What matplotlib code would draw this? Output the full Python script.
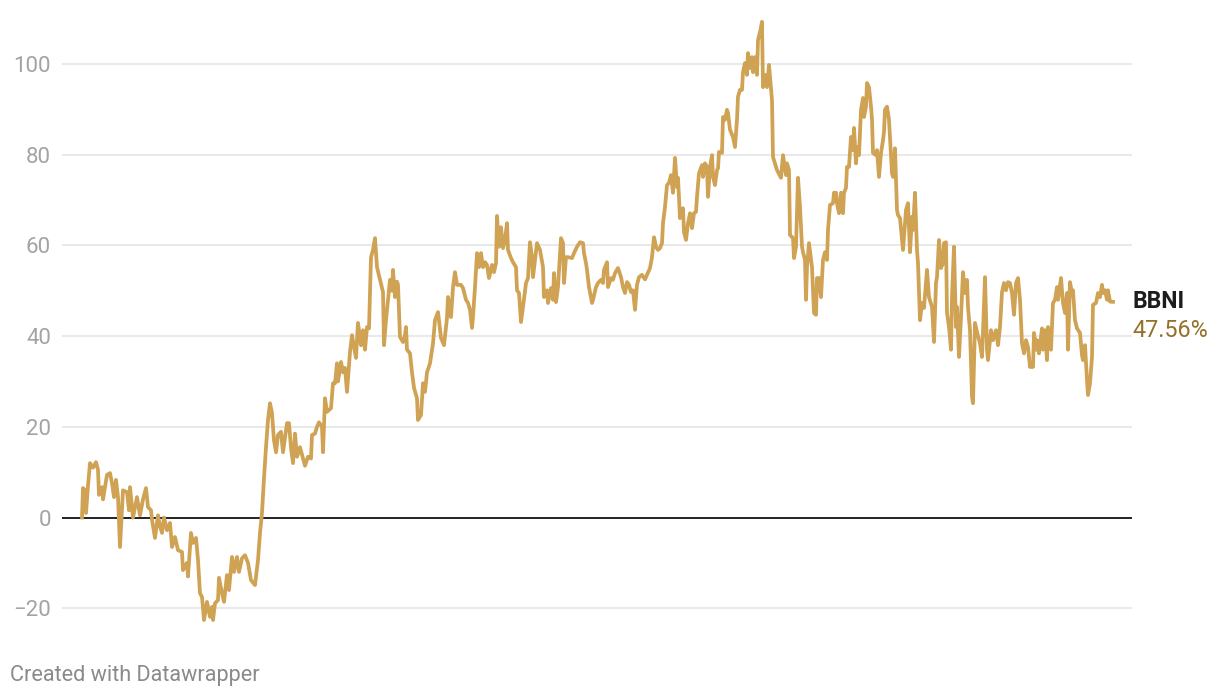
import matplotlib
matplotlib.use("Agg")
import matplotlib.pyplot as plt
from matplotlib.transforms import offset_copy

plt.rcParams['font.family'] = ['Roboto', 'DejaVu Sans']

# trading-day index since start and cumulative return in %
day = [
    # start -> early low
    0, 1, 3, 4, 6, 8, 11, 14, 16, 17, 20, 21, 25, 28, 30, 32, 34, 36, 38, 41,
    45, 47, 48, 51, 55, 58, 61, 64, 66, 69, 70, 73, 76, 78, 80, 82, 85, 88, 90, 93,
    96, 100, 101, 105, 106, 109, 111, 114, 116, 118, 120, 122, 125, 128, 130, 131, 133, 136, 137, 140,
    142, 145, 147, 150, 152, 155, 157, 160, 163, 166, 169, 173, 176, 178, 180, 182, 184,
    # recovery
    186, 188, 190, 192, 194, 196, 199, 201, 205, 207, 209, 211, 213, 215, 218, 221, 223, 226, 229, 230,
    233, 235, 237, 240, 241, 243, 245, 249, 251, 253, 255, 256, 259, 261, 263, 265, 268, 270, 272, 274,
    276, 279, 281, 283, 285, 287, 289, 291, 293, 295, 298, 301, 302, 304, 306, 308, 310, 311, 313, 315,
    316, 318, 321, 323, 324, 325, 328, 330, 332, 335, 336, 339, 341, 343, 345,
    # sideways around 50-60
    348, 351, 353, 356, 359, 362, 365, 366, 369, 371, 373, 375, 379, 381, 384, 386, 388, 390, 391, 393,
    395, 397, 399, 401, 403, 405, 407, 410, 412, 414, 415, 417, 419, 421, 423, 425, 426, 429, 431, 434,
    435, 437, 439, 441, 444, 446, 448, 450, 451, 454, 455, 458, 461, 462, 465, 466, 469, 471, 472, 474,
    476, 479, 481, 482, 484, 486, 490, 492, 495, 498, 501, 502, 504, 505, 507, 510, 511, 514, 516, 519,
    521, 522, 525, 526, 529, 531, 533, 536, 539, 541, 543, 545, 547, 549, 551, 553, 555, 557, 560, 563,
    566, 568,
    # rally to the peak
    570, 572, 574, 576, 578, 580, 581, 583, 585, 587, 589, 591, 593, 595, 596, 598, 601, 602, 604, 606,
    608, 610, 612, 614, 615, 617, 620, 621, 623, 625, 626, 628, 630, 631, 633, 635, 636, 637, 640, 641,
    643, 645, 646, 648, 651, 653, 655, 656, 658, 660, 661, 663, 665, 666, 668, 670, 671, 673, 675, 676,
    678, 680, 681, 683, 685, 687, 690, 691,
    # drop and second hump
    695, 699, 701, 704, 705, 707, 708, 711, 712, 714, 716, 718, 720, 721, 723, 724, 725, 727, 730, 732,
    734, 735, 737, 739, 741, 743, 745, 746, 748, 751, 752, 754, 755, 757, 759, 761, 762, 764, 765, 767,
    769, 771, 772, 774, 775, 777, 779, 781, 782, 784, 785, 787, 789, 790, 791, 794, 795, 797, 799, 801,
    802, 803, 805, 807, 810, 811, 813, 815, 816, 818,
    # final stretch
    821, 824, 826, 828, 830, 831, 833, 835, 836, 838, 840, 842, 845, 847, 850, 852, 854, 855, 857, 859,
    861, 862, 864, 865, 867, 869, 870, 872, 874, 875, 877, 879, 881, 883, 885, 886, 888, 890, 891, 893,
    895, 898, 900, 901, 903, 905, 906, 909, 911, 914, 916, 918, 920, 922, 924, 926, 928, 930, 932, 934,
    936, 938, 940, 942, 944, 946, 948, 951, 952, 954, 955, 957, 960, 961, 963, 965, 966, 969, 971, 973,
    975, 976, 979, 981, 983, 985, 986, 988, 990, 991, 993, 995, 998, 1000, 1001, 1003, 1005, 1006, 1008, 1010,
    1011, 1014, 1016, 1018, 1020, 1021, 1023, 1025, 1026, 1028, 1031,
]

pct = [
    0, 6.5, 6, 1, 7, 12, 11, 12.2, 10.5, 5, 6.7, 4, 9.4, 9.8, 7.6, 4.5, 8.3, 4.5, -6.5, 6,
    5.6, 1.6, 6.7, 0, 4.5, 0.5, 4, 6.5, 2.3, 1.6, -0.5, -4.5, 0.5, -2, -3.4, 0, -2.8, -1.2, -6.5, -4.3,
    -7.2, -7.6, -11.6, -10, -13, -3.4, -5.6, -4.5, -9.4, -16.7, -17.5, -22.6, -18.6, -21.9, -19.7, -22.6, -18.9, -18.2, -13.3, -16.7,
    -18.6, -12.7, -16, -8.7, -12, -8.7, -12, -9, -8.3, -10, -13.8, -14.9, -9.4, -3.4, 1, 8.7, 15.5,

    21.5, 25.2, 23, 17, 14.4, 18.2, 18.9, 14.4, 20.8, 20.8, 15.3, 12, 18.5, 13.4, 15.5, 13, 11.4, 13.4, 13, 18.2,
    18.5, 20, 21, 20, 14.4, 26.3, 23.3, 24.1, 29.6, 29.6, 34, 30, 34.3, 32, 33, 27.7, 36.5, 40.2, 37.6, 35.2,
    42.9, 38, 41.3, 37, 42, 41.7, 57.4, 59, 61.6, 55.2, 52.4, 49.7, 38, 43.5, 48, 52.4, 50, 54.6, 48.6, 52,
    51.3, 39.8, 38.7, 40.2, 42, 37, 36.2, 32, 28.6, 26.3, 21.5, 22.6, 29.6, 27.7, 32,

    34, 38.4, 43.5, 45.3, 39.6, 38, 44, 48.6, 44.2, 50.8, 54.1, 51.3, 51.3, 50.6, 48, 47.3, 45.8, 41.8, 44.2, 50.8,
    58.3, 55.2, 58.3, 55.2, 56.3, 55.7, 52.8, 55.7, 54.1, 56.1, 66.5, 59.7, 64, 59.4, 61.2, 64.9, 59, 57.2, 56.3, 55.2,
    50.1, 49.5, 43.1, 46.4, 51.7, 52.8, 60.7, 57.4, 53, 58.5, 60.5, 59, 55.2, 48.6, 50.1, 47.3, 50.6, 48, 53.9, 47.5,
    50.8, 61.6, 60.5, 51.7, 57.4, 57.4, 57.2, 58.3, 59.7, 60.7, 60.5, 58.3, 56.1, 54.6, 50.8, 47.3, 48, 50.8, 51.7, 52.4,
    51.7, 54.6, 56.3, 50.8, 52.8, 52.4, 53.9, 55, 53, 50.8, 49.5, 51.9, 51.3, 49.7, 50.1, 45.8, 51.3, 53, 53.5, 52.5,
    54, 55,

    57.4, 61.8, 59.7, 59, 59.4, 60.5, 64.9, 68.5, 73.3, 73.8, 75.5, 71.6, 79.3, 72.9, 74.9, 66, 68.2, 62.9, 61.2, 64.9,
    67.1, 63.8, 67.1, 67.4, 70.7, 75.9, 77.7, 75.1, 78.1, 77.3, 70.7, 77.3, 79.9, 75.1, 73.3, 76.6, 77, 80.6, 80.4, 88.3,
    87.7, 89.9, 89.2, 85.5, 83.9, 81.7, 87.7, 92.8, 94.3, 94.3, 98.2, 100.2, 97.6, 102.4, 99.1, 101.5, 98.2, 101.5, 97.6, 105.3,
    107, 109.3, 94.9, 97.6, 94.9, 99.8, 92, 79.5,

    76.6, 74.9, 79.9, 75.5, 78.1, 76.6, 62.3, 61.6, 57.2, 59.7, 74.9, 68.5, 59.7, 58.5, 56.8, 48, 55.2, 60.5, 55.2, 45.1,
    44.7, 52.8, 52.8, 48.6, 56.8, 58.5, 56.8, 63.4, 68.9, 69.3, 71.6, 71.6, 69.3, 67.1, 71.6, 67.1, 71.6, 72.7, 77.3, 77.3,
    83.9, 81, 85.9, 78.1, 81.7, 79.9, 89.9, 92.5, 88.3, 90.6, 95.8, 94.9, 90.6, 87.7, 80.4, 79.9, 81, 75.1, 80.4, 83.2,
    85, 89.9, 90.6, 87.7, 75.9, 75.1, 81.4, 67.8, 66.7, 66,

    59, 67.8, 69.3, 58.5, 66.3, 63.4, 71.6, 59, 56.1, 43.5, 47.3, 46.2, 54.6, 48.6, 46.4, 38.7, 51.7, 53, 61.2, 55,
    56.1, 60.5, 60.7, 45.1, 42, 37, 48.6, 59.7, 42, 46.4, 35.4, 44.2, 54.1, 49.5, 52.4, 46.4, 41.3, 26.6, 25.2, 42.9,
    40.9, 38.4, 35.4, 40.9, 53, 37, 34.7, 41.3, 39.1, 41.3, 38, 42, 49.7, 51.7, 50.1, 51.9, 51.7, 49.5, 44.7, 51.7,
    52.8, 48, 38.4, 36.2, 39.1, 37.6, 33.2, 33.2, 40.7, 37, 39.1, 36.2, 41.7, 37, 41.3, 34.7, 42, 37, 47.3, 48,
    50.8, 48, 52.8, 47.3, 45.1, 49.5, 37, 51.9, 49.5, 50.1, 43.5, 41.7, 40.7, 35.8, 34.7, 38, 30.3, 27, 29.6, 35.4,
    46.9, 47.3, 49.5, 48.6, 51.3, 49.5, 50.1, 48, 50.1, 47.6, 47.56,
]

series_name = "BBNI"
yticks = [-20, 0, 20, 40, 60, 80, 100]
ytick_labels = ["\u221220", "0", "20", "40", "60", "80", "100"]

line_color = "#cfa254"
label_color = "#94712a"
grid_color = "#e3e3e3"
tick_color = "#a3a3a3"

fig = plt.figure(figsize=(12.2, 6.98), dpi=100)
ax = fig.add_axes([62 / 1220, 1 - 630 / 698, 1070 / 1220, 615 / 698])

for t in yticks:
    if t == 0:
        ax.axhline(t, color="#111111", lw=1.3, zorder=3)
    else:
        ax.axhline(t, color=grid_color, lw=1.1, zorder=1)

ax.plot(day, pct, color=line_color, lw=2.7, solid_joinstyle="round", zorder=4)

ax.set_xlim(-20, 1050)
ax.set_ylim(-24.8, 110.8)
ax.set_yticks(yticks)
ax.set_yticklabels(ytick_labels)
ax.set_xticks([])
ax.tick_params(axis="y", length=0, pad=8, labelsize=16, labelcolor=tick_color)
for s in ax.spines.values():
    s.set_visible(False)

# direct label at the end of the line
last = pct[-1]
tr = offset_copy(ax.transData, fig=fig, x=14, y=0, units="points")
ax.text(day[-1], last, series_name, transform=tr, ha="left", va="center",
        fontsize=16.5, fontweight="bold", color="#1d1d1d")
tr2 = offset_copy(ax.transData, fig=fig, x=14, y=-21, units="points")
ax.text(day[-1], last, f"{last:.2f}%", transform=tr2, ha="left", va="center",
        fontsize=16.8, color=label_color)

fig.text(10 / 1220, 1 - 675 / 698, "Created with Datawrapper", ha="left", va="center",
         fontsize=15.6, color="#8a8a8a")

fig.savefig("out.png", dpi=100)
